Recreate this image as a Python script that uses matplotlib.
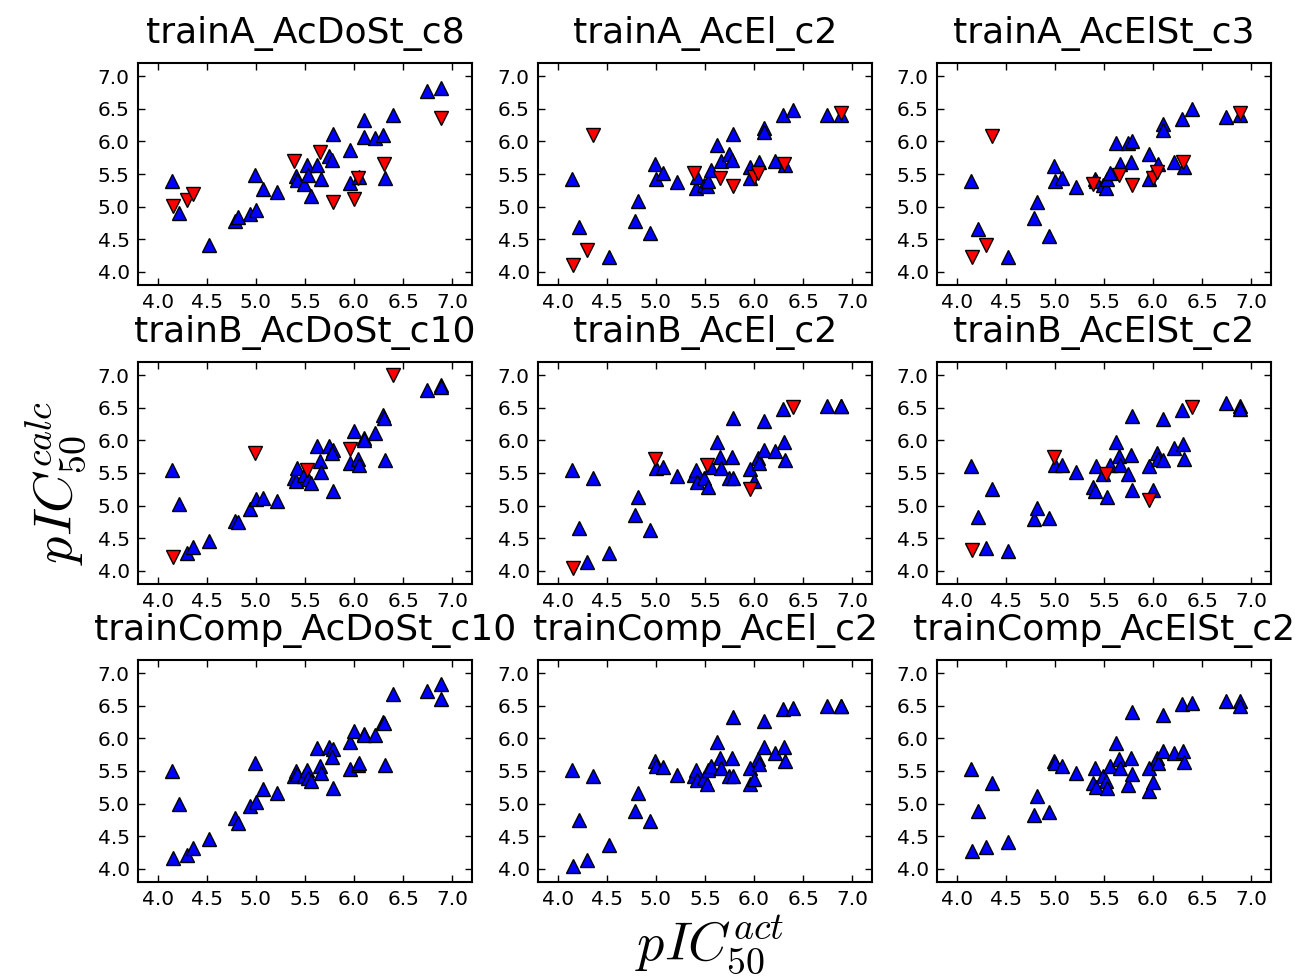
import matplotlib
matplotlib.use("Agg")
import matplotlib.pyplot as plt

plt.rcParams["mathtext.fontset"] = "cm"
plt.rcParams["font.family"] = "DejaVu Sans"

# Measured pIC50 of the compound set (shared by every model)
pic50_act = [4.15, 4.16, 4.22, 4.30, 4.36, 4.52, 4.79, 4.82, 4.94, 4.99,
             5.00, 5.07, 5.22, 5.39, 5.41, 5.42, 5.49, 5.52, 5.53, 5.56,
             5.62, 5.65, 5.66, 5.74, 5.78, 5.77, 5.79, 5.96, 5.96, 6.00,
             6.04, 6.05, 6.10, 6.10, 6.21, 6.29, 6.30, 6.31, 6.40, 6.74,
             6.88, 6.88]

# Calculated pIC50 for each model
calc_trainA_AcDoSt_c8 = [5.40, 5.01, 4.91, 5.10, 5.19, 4.42, 4.78, 4.84, 4.88, 5.49,
                         4.95, 5.27, 5.22, 5.70, 5.47, 5.41, 5.35, 5.64, 5.48, 5.17,
                         5.64, 5.84, 5.42, 5.78, 6.11, 5.72, 5.07, 5.86, 5.36, 5.11,
                         5.44, 5.45, 6.33, 6.07, 6.05, 6.10, 5.65, 5.44, 6.40, 6.77,
                         6.81, 6.36]
calc_trainA_AcEl_c2 = [5.43, 4.11, 4.69, 4.33, 6.09, 4.23, 4.78, 5.08, 4.59, 5.66,
                       5.43, 5.52, 5.38, 5.51, 5.29, 5.45, 5.33, 5.31, 5.40, 5.56,
                       5.95, 5.44, 5.70, 5.80, 6.12, 5.71, 5.31, 5.61, 5.44, 5.46,
                       5.52, 5.69, 6.20, 6.14, 5.70, 6.40, 5.66, 5.64, 6.48, 6.40,
                       6.40, 6.43]
calc_trainA_AcElSt_c3 = [5.39, 4.23, 4.65, 4.42, 6.08, 4.23, 4.83, 5.07, 4.55, 5.63,
                         5.39, 5.44, 5.30, 5.35, 5.43, 5.39, 5.33, 5.28, 5.42, 5.51,
                         5.97, 5.48, 5.66, 5.98, 6.00, 5.68, 5.33, 5.80, 5.42, 5.44,
                         5.53, 5.66, 6.27, 6.17, 5.68, 6.35, 5.69, 5.60, 6.49, 6.38,
                         6.41, 6.44]
calc_trainB_AcDoSt_c10 = [5.54, 4.22, 5.02, 4.27, 4.37, 4.46, 4.77, 4.75, 4.95, 5.80,
                          5.10, 5.11, 5.07, 5.42, 5.38, 5.58, 5.47, 5.55, 5.41, 5.34,
                          5.92, 5.68, 5.51, 5.92, 5.85, 5.81, 5.22, 5.87, 5.65, 6.14,
                          5.71, 5.62, 6.03, 6.01, 6.12, 6.39, 6.35, 5.70, 7.00, 6.77,
                          6.85, 6.81]
calc_trainB_AcEl_c2 = [5.54, 4.05, 4.66, 4.13, 5.43, 4.28, 4.86, 5.13, 4.62, 5.72,
                       5.58, 5.59, 5.46, 5.47, 5.54, 5.36, 5.43, 5.62, 5.29, 5.59,
                       5.97, 5.75, 5.57, 5.43, 6.35, 5.75, 5.43, 5.26, 5.56, 5.38,
                       5.73, 5.65, 6.29, 5.85, 5.84, 6.48, 5.97, 5.70, 6.51, 6.53,
                       6.53, 6.52]
calc_trainB_AcElSt_c2 = [5.61, 4.32, 4.82, 4.35, 5.25, 4.30, 4.80, 4.97, 4.81, 5.75,
                         5.62, 5.63, 5.51, 5.29, 5.22, 5.60, 5.49, 5.49, 5.14, 5.63,
                         5.97, 5.76, 5.62, 5.49, 6.37, 5.77, 5.24, 5.08, 5.60, 5.24,
                         5.80, 5.71, 6.32, 5.70, 5.89, 6.47, 5.95, 5.72, 6.51, 6.57,
                         6.52, 6.48]
calc_trainComp_AcDoSt_c10 = [5.50, 4.16, 4.99, 4.22, 4.32, 4.46, 4.78, 4.70, 4.97, 5.63,
                             5.03, 5.23, 5.16, 5.43, 5.50, 5.45, 5.42, 5.52, 5.40, 5.34,
                             5.85, 5.57, 5.47, 5.86, 5.84, 5.71, 5.24, 5.94, 5.53, 6.11,
                             5.59, 5.62, 6.07, 6.05, 6.05, 6.25, 6.23, 5.59, 6.68, 6.72,
                             6.84, 6.60]
calc_trainComp_AcEl_c2 = [5.51, 4.04, 4.75, 4.14, 5.43, 4.36, 4.88, 5.16, 4.73, 5.65,
                          5.58, 5.56, 5.44, 5.43, 5.52, 5.36, 5.40, 5.30, 5.52, 5.57,
                          5.94, 5.70, 5.54, 5.42, 6.32, 5.70, 5.43, 5.54, 5.30, 5.38,
                          5.69, 5.61, 6.27, 5.86, 5.77, 6.45, 5.86, 5.66, 6.47, 6.49,
                          6.50, 6.49]
calc_trainComp_AcElSt_c2 = [5.53, 4.27, 4.89, 4.34, 5.31, 4.41, 4.83, 5.11, 4.87, 5.66,
                            5.62, 5.58, 5.47, 5.31, 5.54, 5.25, 5.43, 5.34, 5.24, 5.57,
                            5.93, 5.69, 5.54, 5.28, 6.41, 5.70, 5.45, 5.55, 5.19, 5.33,
                            5.70, 5.63, 6.36, 5.80, 5.77, 6.52, 5.81, 5.64, 6.54, 6.57,
                            6.57, 6.49]

# Compounds left out of each training set (drawn as red down-triangles)
test_idx_trainA = [1, 3, 4, 13, 21, 26, 29, 30, 36, 41]
test_idx_trainB = [1, 9, 17, 27, 38]
test_idx_trainComp = []

panels = [
    ("trainA_AcDoSt_c8", calc_trainA_AcDoSt_c8, test_idx_trainA),
    ("trainA_AcEl_c2", calc_trainA_AcEl_c2, test_idx_trainA),
    ("trainA_AcElSt_c3", calc_trainA_AcElSt_c3, test_idx_trainA),
    ("trainB_AcDoSt_c10", calc_trainB_AcDoSt_c10, test_idx_trainB),
    ("trainB_AcEl_c2", calc_trainB_AcEl_c2, test_idx_trainB),
    ("trainB_AcElSt_c2", calc_trainB_AcElSt_c2, test_idx_trainB),
    ("trainComp_AcDoSt_c10", calc_trainComp_AcDoSt_c10, test_idx_trainComp),
    ("trainComp_AcEl_c2", calc_trainComp_AcEl_c2, test_idx_trainComp),
    ("trainComp_AcElSt_c2", calc_trainComp_AcElSt_c2, test_idx_trainComp),
]

ticks = [4.0, 4.5, 5.0, 5.5, 6.0, 6.5, 7.0]
tick_labels = ["4.0", "4.5", "5.0", "5.5", "6.0", "6.5", "7.0"]

W, H = 1295, 976
fig = plt.figure(figsize=(W / 100, H / 100), dpi=100)
col_left = [138, 538, 937]
row_top = [63, 362, 660]
ax_w, ax_h = 334, 222

for k, (title, calc, test_idx) in enumerate(panels):
    r, c = divmod(k, 3)
    ax = fig.add_axes([col_left[c] / W, 1 - (row_top[r] + ax_h) / H, ax_w / W, ax_h / H])
    train = [i for i in range(len(pic50_act)) if i not in test_idx]
    ax.plot([pic50_act[i] for i in train], [calc[i] for i in train], "^",
            color="b", mec="k", mew=1.0, ms=9.5, linestyle="none")
    if test_idx:
        ax.plot([pic50_act[i] for i in test_idx], [calc[i] for i in test_idx], "v",
                color="r", mec="k", mew=1.0, ms=9.5, linestyle="none")
    ax.set_xlim(3.8, 7.2)
    ax.set_ylim(3.8, 7.2)
    ax.set_xticks(ticks)
    ax.set_xticklabels(tick_labels)
    ax.set_yticks(ticks)
    ax.set_yticklabels(tick_labels)
    ax.tick_params(direction="in", length=5, width=1, labelsize=14.5,
                   top=True, right=True, pad=6)
    for s in ax.spines.values():
        s.set_linewidth(1.5)
    ax.set_title(title, fontsize=26, pad=14.4)

fig.text(0.548, 0.0, r"$pIC_{50}^{act}$", ha="center", va="bottom", fontsize=39)
fig.text(0.043, 0.505, r"$pIC_{50}^{calc}$", ha="center", va="center",
         rotation=90, fontsize=39)

fig.savefig("out.png", dpi=100)
